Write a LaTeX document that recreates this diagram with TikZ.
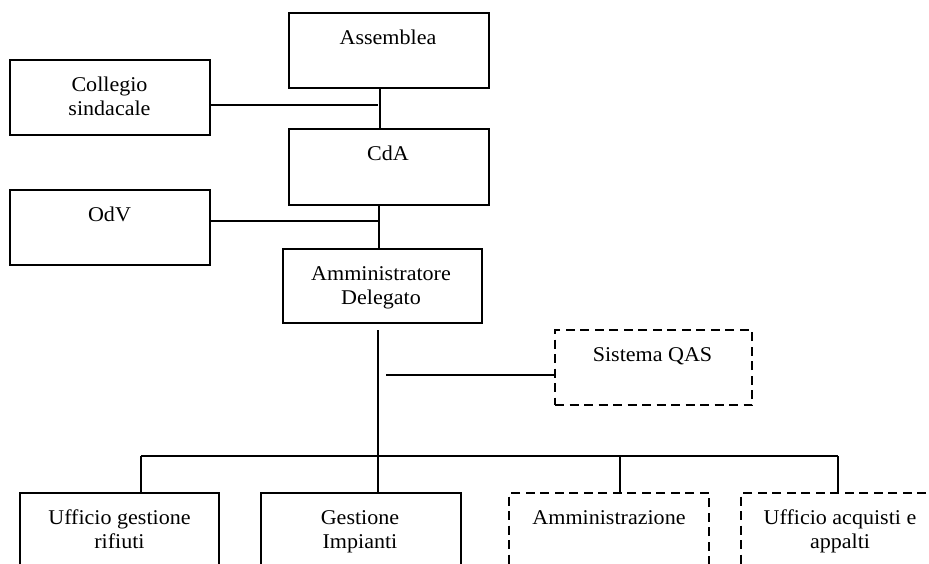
\documentclass[tikz,border=0pt]{standalone}
\usepackage{fontspec}
\setmainfont[FakeStretch=1.05]{Liberation Serif}
\begin{document}
\begin{tikzpicture}[x=1pt,y=-1pt,
  box/.style={draw=black, line width=1.3pt, inner sep=0pt, outer sep=0pt, fill=white},
  dbox/.style={box, dash pattern=on 9pt off 5.5pt},
  lbl/.style={anchor=north, inner sep=0pt, align=center, font=\fontsize{21}{24.5}\selectfont},
  conn/.style={draw=black, line width=1.3pt}]
\useasboundingbox (0,0) rectangle (929,564);
\clip (0,0) rectangle (929,564);
% boxes
\node[box, minimum width=200pt, minimum height=75pt] (asm) at (389,50.5) {};
\node[box, minimum width=200pt, minimum height=75pt] (coll) at (110,97.5) {};
\node[box, minimum width=200pt, minimum height=76pt] (cda) at (389,167) {};
\node[box, minimum width=200pt, minimum height=75pt] (odv) at (110,227.5) {};
\node[box, minimum width=199pt, minimum height=74pt] (ad) at (382.5,286) {};
\node[dbox, minimum width=197pt, minimum height=75pt] (qas) at (653.5,367.5) {};
\node[box, minimum width=199pt, minimum height=75pt] (b1) at (119.5,530.5) {};
\node[box, minimum width=200pt, minimum height=75pt] (b2) at (361,530.5) {};
\node[dbox, minimum width=200pt, minimum height=75pt] (b3) at (609,530.5) {};
\node[dbox, minimum width=200pt, minimum height=75pt] (b4) at (841,530.5) {};
% labels
\node[lbl] (tasm) at (388,27) {\strut Assemblea};
\node[lbl] (tcoll) at (109.5,74) {\strut Collegio\\sindacale};
\node[lbl] (tcda) at (388,143) {\strut CdA};
\node[lbl] (todv) at (109.5,204) {\strut OdV};
\node[lbl] (tad) at (381,263) {\strut Amministratore\\Delegato};
\node[lbl] (tqas) at (652.5,344) {\strut Sistema QAS};
\node[lbl] (tb1) at (119.5,507) {\strut Ufficio gestione\\rifiuti};
\node[lbl] (tb2) at (360,507) {\strut Gestione\\Impianti};
\node[lbl] (tb3) at (609,507) {\strut Amministrazione};
\node[lbl] (tb4) at (840,507) {\strut Ufficio acquisti e\\appalti};
% connectors
\coordinate (v1) at (380,0);
\draw[conn] (asm.south -| v1) -- (cda.north -| v1);
\coordinate (j1) at (378,105);
\draw[conn] (coll.east |- j1) -- (j1);
\coordinate (v2) at (379,0);
\draw[conn] (cda.south -| v2) -- (ad.north -| v2);
\coordinate (j2) at (379,221);
\draw[conn] (odv.east |- j2) -- (j2);
\coordinate (t) at (378,330);
\draw[conn] (t) -- (b2.north -| t);
\coordinate (q) at (386,375);
\draw[conn] (q) -- (qas.west |- q);
\coordinate (bl) at (141,456);
\coordinate (br) at (838,456);
\coordinate (d3) at (620,456);
\draw[conn] (bl) -- (br);
\draw[conn] (bl) -- (b1.north -| bl);
\draw[conn] (d3) -- (b3.north -| d3);
\draw[conn] (br) -- (b4.north -| br);
\end{tikzpicture}
\end{document}
